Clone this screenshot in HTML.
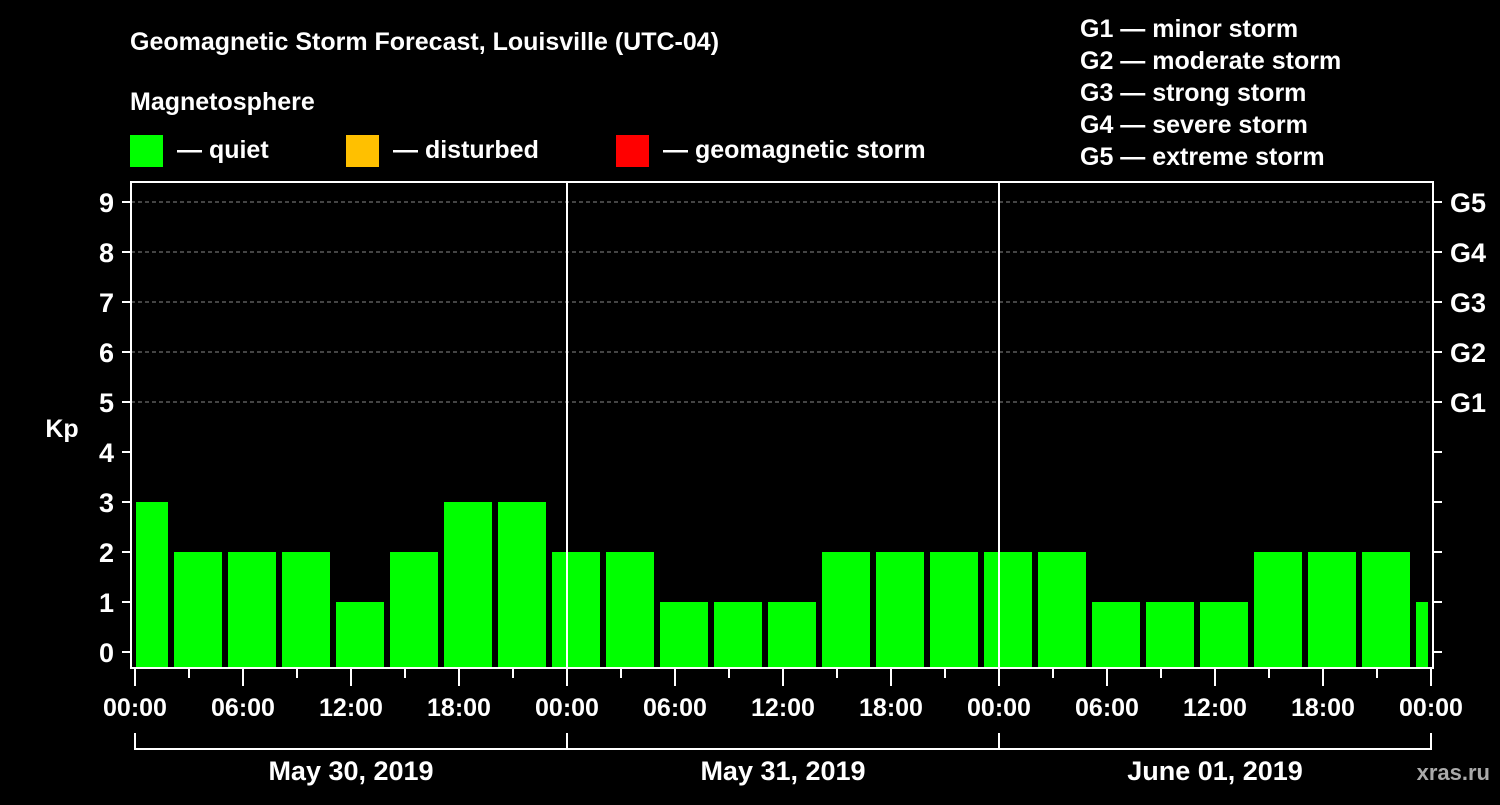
<!DOCTYPE html>
<html><head><meta charset="utf-8"><style>
body{margin:0;background:#000;width:1500px;height:800px;overflow:hidden}
svg text{font-family:"Liberation Sans",sans-serif;font-weight:bold;fill:#fff}
</style></head><body>
<svg id="c" width="1500" height="800" xmlns="http://www.w3.org/2000/svg">
<rect width="1500" height="800" fill="#000"/>
<text x="130" y="50" font-size="25">Geomagnetic Storm Forecast, Louisville (UTC-04)</text>
<text x="130" y="110" font-size="25">Magnetosphere</text>
<g><rect x="130" y="135" width="33" height="32" fill="#00ff00"/><text x="177" y="158" font-size="25">— quiet</text></g>
<g><rect x="346" y="135" width="33" height="32" fill="#ffc000"/><text x="393" y="158" font-size="25">— disturbed</text></g>
<g><rect x="616" y="135" width="33" height="32" fill="#ff0000"/><text x="663" y="158" font-size="25">— geomagnetic storm</text></g>
<g font-size="25">
<text x="1080" y="37">G1 — minor storm</text>
<text x="1080" y="69">G2 — moderate storm</text>
<text x="1080" y="101">G3 — strong storm</text>
<text x="1080" y="133">G4 — severe storm</text>
<text x="1080" y="165">G5 — extreme storm</text>
</g>
<text x="62" y="437" font-size="25" text-anchor="middle">Kp</text>
<text x="1490" y="780" font-size="22" text-anchor="end" fill="#999" style="fill:#aaa">xras.ru</text>
<g id="plot"></g>
</svg>
<script>
const kpValues=[3,2,2,2,1,2,3,3,2,2,1,1,1,2,2,2,2,2,1,1,1,2,2,2,1];
const startHour=-1; // first 3h block start, local hours
const yTicks=[0,1,2,3,4,5,6,7,8,9];
const gLabels=["G1","G2","G3","G4","G5"];
const gLevels=[5,6,7,8,9];
const xTickLabels=["00:00","06:00","12:00","18:00","00:00","06:00","12:00","18:00","00:00","06:00","12:00","18:00","00:00"];
const dayLabels=["May 30, 2019","May 31, 2019","June 01, 2019"];
const NS="http://www.w3.org/2000/svg";
const g=document.getElementById('plot');
const L=131,R=1433,T=182,B=668,X0=135,PXH=18;
const xs=h=>X0+h*PXH, ys=v=>652-50*v;
function mk(t,a,p){const e=document.createElementNS(NS,t);for(const k in a)e.setAttribute(k,a[k]);(p||g).appendChild(e);return e;}
// grid
gLevels.forEach((v,i)=>{
 const l=mk('line',{x1:L,x2:R,y1:ys(v),y2:ys(v),stroke:'#888','stroke-dasharray':'4,3','stroke-width':1});
 
 
 const t=mk('text',{x:1450,y:ys(v)+10,'font-size':27});t.textContent=gLabels[i];
 
 
});
// bars
kpValues.forEach((v,i)=>{
 let x1=xs(startHour+3*i)+3,x2=xs(startHour+3*i+3)-3;
 x1=Math.max(x1,L+5);x2=Math.min(x2,R-5);
 const y=ys(v);
 const r=mk('rect',{x:x1,y:y,width:x2-x1,height:B-y,fill:v>=5?'#ff0000':(v>=4?'#ffc000':'#00ff00')});
 
 
});
// day separators
[1,2].forEach(d=>{const l=mk('line',{x1:xs(24*d),x2:xs(24*d),y1:T,y2:B,stroke:'#fff','stroke-width':2});
 
 });
// frame
const f=mk('rect',{x:L,y:T,width:R-L,height:B-T,fill:'none',stroke:'#fff','stroke-width':2});


// y ticks
yTicks.forEach(v=>{
 mk('line',{x1:122,x2:L,y1:ys(v),y2:ys(v),stroke:'#fff','stroke-width':2});
 mk('line',{x1:R,x2:1442,y1:ys(v),y2:ys(v),stroke:'#fff','stroke-width':2});
 const t=mk('text',{x:114,y:ys(v)+10,'font-size':27,'text-anchor':'end'});t.textContent=v;
 
 
});
// x ticks
for(let h=0;h<=72;h+=3){mk('line',{x1:xs(h),x2:xs(h),y1:B,y2:h%6==0?686:678,stroke:'#fff','stroke-width':2});}
xTickLabels.forEach((s,i)=>{const t=mk('text',{x:xs(6*i),y:716,'font-size':25,'text-anchor':'middle'});t.textContent=s;
 
 });
// day brackets
mk('path',{d:`M${xs(0)},733V749H${xs(72)}V733`,fill:'none',stroke:'#fff','stroke-width':2});
[24,48].forEach(h=>mk('line',{x1:xs(h),x2:xs(h),y1:733,y2:749,stroke:'#fff','stroke-width':2}));
dayLabels.forEach((s,i)=>{const t=mk('text',{x:xs(24*i+12),y:780,'font-size':27,'text-anchor':'middle'});t.textContent=s;
 
 });
</script>
</body></html>
